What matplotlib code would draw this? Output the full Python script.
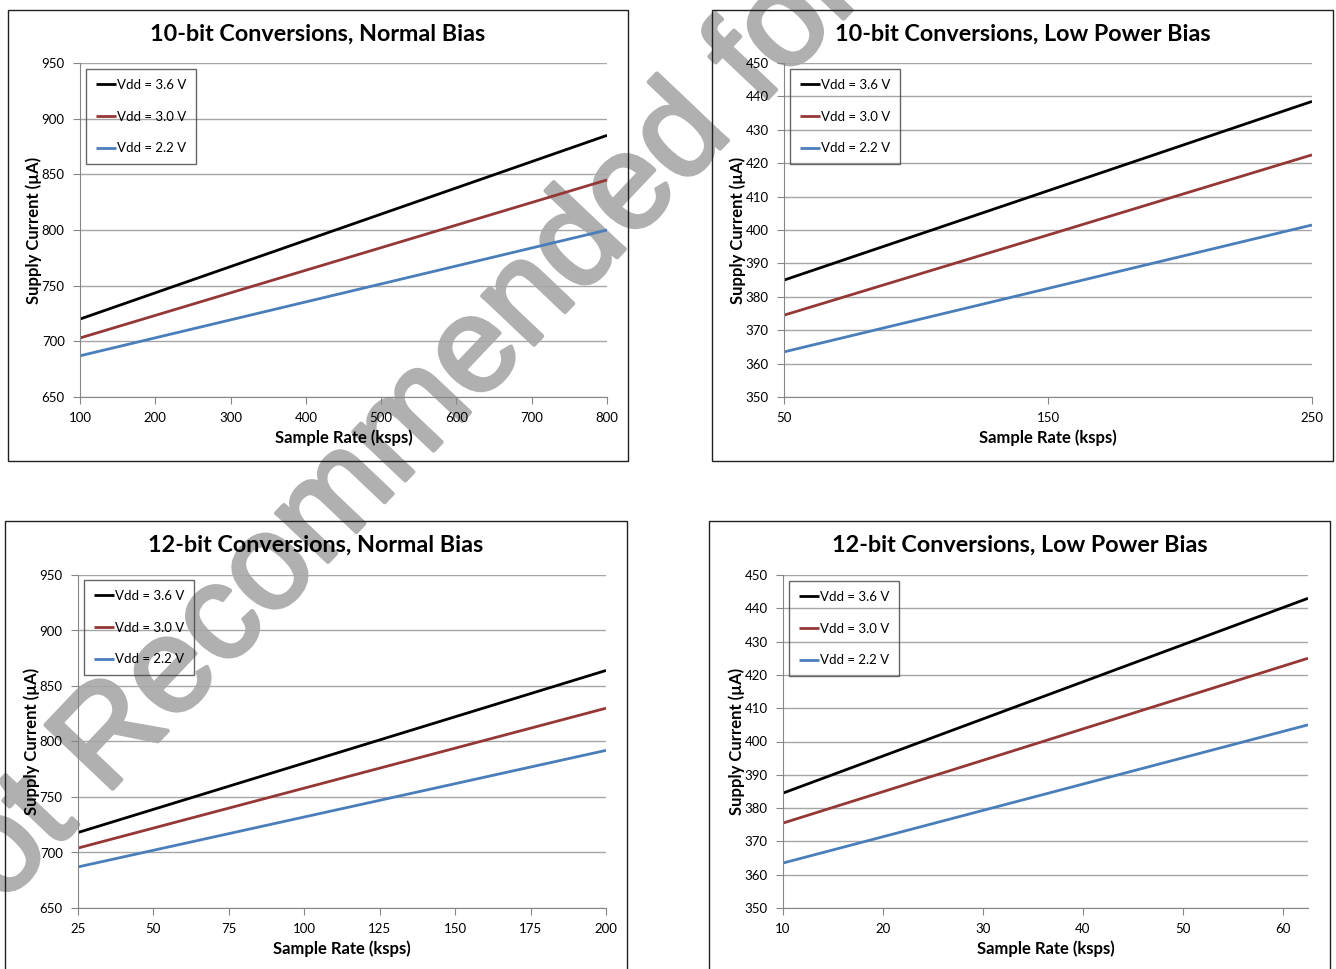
import matplotlib
matplotlib.use("Agg")
import matplotlib.pyplot as plt
import matplotlib.patheffects as pe
from matplotlib.patches import Rectangle

plt.rcParams['font.family'] = ['Lato', 'DejaVu Sans']

# data (straight lines, read at both ends of each x range)
labels = ["Vdd = 3.6 V", "Vdd = 3.0 V", "Vdd = 2.2 V"]
colors = ["#000000", "#953735", "#4a7ebb"]

titles = ["10-bit Conversions, Normal Bias", "10-bit Conversions, Low Power Bias",
          "12-bit Conversions, Normal Bias", "12-bit Conversions, Low Power Bias"]

x_10n = [100, 800]
y_10n_36 = [720, 885]
y_10n_30 = [703, 845]
y_10n_22 = [687, 800]

x_10l = [50, 250]
y_10l_36 = [385, 438.5]
y_10l_30 = [374.5, 422.5]
y_10l_22 = [363.5, 401.5]

x_12n = [25, 200]
y_12n_36 = [718, 864]
y_12n_30 = [704, 830]
y_12n_22 = [687, 792]

x_12l = [10, 62.5]
y_12l_36 = [384.5, 443]
y_12l_30 = [375.5, 425]
y_12l_22 = [363.5, 405]

xticks = [list(range(100, 801, 100)), [50, 150, 250], list(range(25, 201, 25)), list(range(10, 61, 10))]
yticks = [list(range(650, 951, 50)), list(range(350, 451, 10)), list(range(650, 951, 50)), list(range(350, 451, 10))]

W, H = 1336, 969
fig = plt.figure(figsize=(W / 100, H / 100), dpi=100)

def px(l, t, r, b):
    return [l / W, 1 - b / H, (r - l) / W, (b - t) / H]

# axes rectangles (pixels: left, top, right, bottom), panel boxes, legend anchors
axes_px = [(80, 63, 607, 397), (784, 63, 1312, 397), (78, 575, 606, 908), (783, 575, 1308, 908)]
box_px = [(8, 10, 628, 461), (712, 10, 1333, 461), (5, 521, 627, 975), (709, 521, 1330, 975)]
leg_px = [(86, 69), (790, 69), (84, 580), (789, 581)]

xs = [x_10n, x_10l, x_12n, x_12l]
ys = [[y_10n_36, y_10n_30, y_10n_22], [y_10l_36, y_10l_30, y_10l_22],
      [y_12n_36, y_12n_30, y_12n_22], [y_12l_36, y_12l_30, y_12l_22]]

for i in range(4):
    bl, bt, br, bb = box_px[i]
    fig.patches.append(Rectangle((bl / W, 1 - bb / H), (br - bl) / W, (bb - bt) / H,
                                 transform=fig.transFigure, fill=False,
                                 edgecolor="#202020", lw=1.0))
    l, t, r, b = axes_px[i]
    ax = fig.add_axes(px(l, t, r, b))
    ax.set_facecolor("none")
    for k in range(3):
        ax.plot(xs[i], ys[i][k], color=colors[k], lw=2, label=labels[k], solid_capstyle="butt")
    ax.set_xlim(xs[i][0], xs[i][1])
    ax.set_ylim(yticks[i][0], yticks[i][-1])
    ax.set_xticks(xticks[i])
    ax.set_yticks(yticks[i])
    ax.grid(axis="y", color="#a6a6a6", lw=1)
    ax.set_axisbelow(True)
    for s in ["top", "right"]:
        ax.spines[s].set_visible(False)
    for s in ["left", "bottom"]:
        ax.spines[s].set_color("#868686")
    ax.tick_params(axis="both", direction="out", length=5, color="#868686",
                   labelsize=9.5, pad=6)
    ax.set_xlabel("Sample Rate (ksps)", fontsize=12, fontweight="bold", labelpad=4)
    ax.set_ylabel("Supply Current (µA)", fontsize=12, fontweight="bold", labelpad=0)
    fig.text(((bl + br) / 2) / W, 1 - (bt + 24) / H, titles[i], ha="center", va="center",
             fontsize=16.8, fontweight="bold")
    lx, ly = leg_px[i]
    ax_l = (lx - l) / (r - l)
    ax_t = 1 - (ly - t) / (b - t)
    leg = ax.legend(loc="upper left", bbox_to_anchor=(ax_l, ax_t), fontsize=9.5,
                    frameon=True, fancybox=False, edgecolor="#404040", facecolor="none",
                    borderaxespad=0, borderpad=0.75, labelspacing=1.5,
                    handlelength=1.55, handletextpad=0.05)
    leg.get_frame().set_linewidth(1)

# watermark, sitting underneath the transparent axes
fig.text(-65 / W, 1 - 976 / H, "Not Recommended for New Designs", rotation=46.5,
         rotation_mode="anchor", ha="left", va="baseline", fontsize=97,
         family="Liberation Sans", color="#b0b0b0", zorder=-5,
         path_effects=[pe.withStroke(linewidth=3, foreground="#b0b0b0")])

fig.savefig("out.png", dpi=100)
